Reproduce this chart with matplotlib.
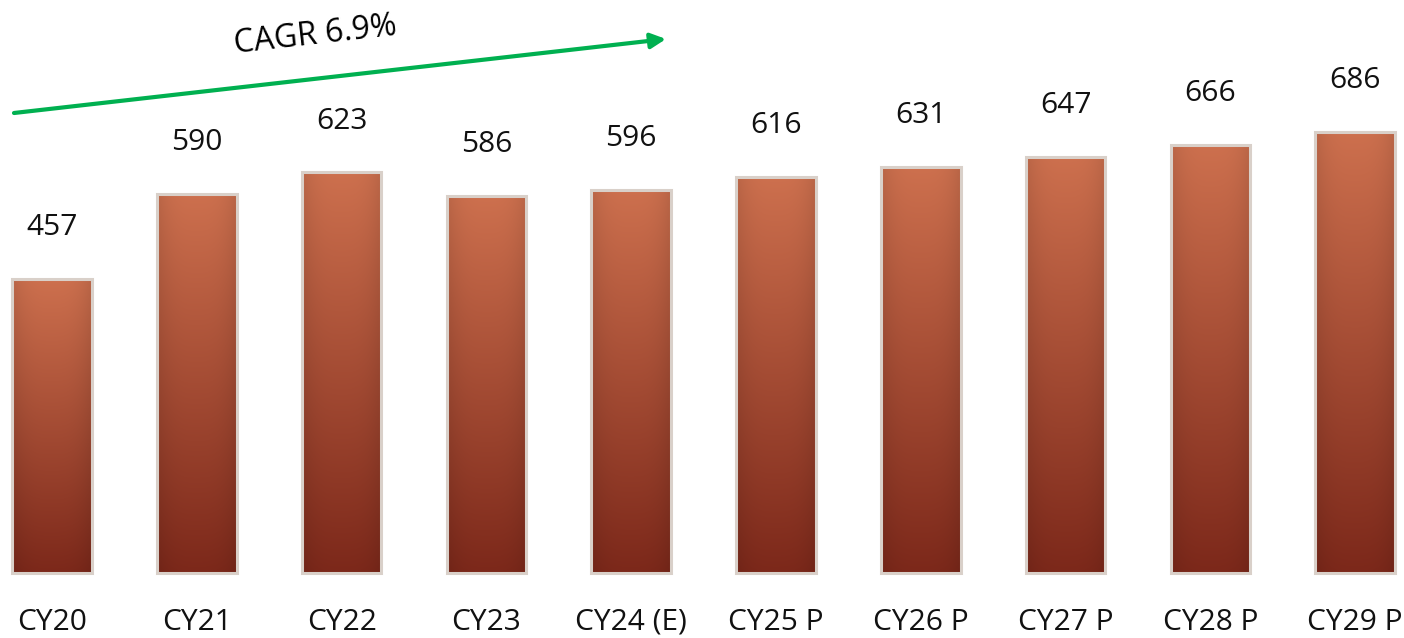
import numpy as np
import matplotlib
matplotlib.use("Agg")
import matplotlib.pyplot as plt

categories = ["CY20", "CY21", "CY22", "CY23", "CY24 (E)", "CY25 P", "CY26 P", "CY27 P", "CY28 P", "CY29 P"]
values = [457, 590, 623, 586, 596, 616, 631, 647, 666, 686]
cagr_label = "CAGR 6.9%"

plt.rcParams['font.family'] = ['Open Sans', 'DejaVu Sans']

fig = plt.figure(figsize=(14.04, 6.38), dpi=100)
ax = fig.add_axes([0, 0, 1, 1])
spacing = 144.8
ppu = 0.643
x0 = -52 / spacing
ax.set_xlim(x0, x0 + 1404 / spacing)
ax.set_ylim(-(638 - 573) / ppu, 573 / ppu)
ax.axis('off')

x = np.arange(len(categories))
bars = ax.bar(x, values, width=0.55, color='none', edgecolor='#d9d0c9', linewidth=2.2, zorder=3)

# gradient image
top = np.array([205, 112, 78]) / 255
bot = np.array([124, 40, 26]) / 255
ny, nx = 200, 60
t = np.linspace(0, 1, ny)[:, None, None]
grad = top * (1 - t) + bot * t
u = np.linspace(-1, 1, nx)[None, :, None]
shade = 1 - 0.10 * np.abs(u) ** 3
img = np.clip(grad * shade, 0, 1)

for b in bars:
    x1, y1 = b.get_x(), b.get_y()
    w, h = b.get_width(), b.get_height()
    im = ax.imshow(img, extent=[x1, x1 + w, y1, y1 + h], aspect='auto', zorder=2, interpolation='bilinear')
    im.set_clip_path(b)

for xi, v in zip(x, values):
    ax.annotate(str(v), (xi, v), xytext=(0, 37), textcoords='offset points',
                ha='center', va='center', fontsize=21.5, color='#111111')

for xi, c in zip(x, categories):
    ax.text(xi, -(622 - 573) / ppu, c, ha='center', va='center', fontsize=21.5, color='#111111')

# CAGR arrow
ax_x = lambda px: px / spacing + x0
ax_y = lambda py: (573 - py) / ppu
ax.annotate('', xy=(ax_x(666), ax_y(39)), xytext=(ax_x(14), ax_y(113)),
            arrowprops=dict(arrowstyle='-|>,head_length=0.9,head_width=0.45', color='#00b050', lw=3,
                            shrinkA=0, shrinkB=0))
ax.text(ax_x(315), ax_y(35), cagr_label, ha='center', va='center', fontsize=23, rotation=6.4,
        color='#000000')

fig.savefig('out.png', dpi=100)
